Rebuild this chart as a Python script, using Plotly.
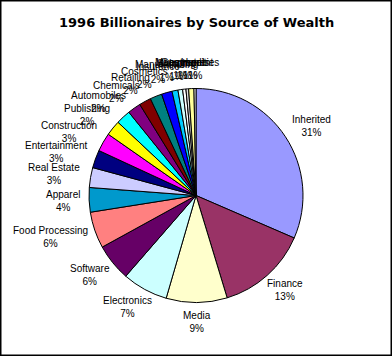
import math
import plotly.graph_objects as go

title = "1996 Billionaires by Source of Wealth"
categories = ["Inherited", "Finance", "Media", "Electronics", "Software",
              "Food Processing", "Apparel", "Real Estate", "Entertainment",
              "Construction", "Publishing", "Automobiles", "Chemicals",
              "Retailing", "Cosmetics", "Insurance", "Manufacturing",
              "Shipping", "Investment", "Management", "Commodities", "Hotels"]
values = [31.5, 13.8, 9.2, 6.9, 5.6, 5.5, 3.7, 3.0, 2.7, 2.8, 2.3, 2.2, 2.0,
          1.8, 1.8, 1.6, 0.9, 0.7, 0.5, 0.4, 0.8, 0.3]
pct_labels = ["31%", "13%", "9%", "7%", "6%", "6%", "4%", "3%", "3%", "3%",
              "2%", "2%", "2%", "2%", "2%", "2%", "1%", "1%", "1%", "1%",
              "1%", "1%"]
colors = ["#9999FF", "#993366", "#FFFFCC", "#CCFFFF", "#660066", "#FF8080",
          "#0099CC", "#CCCCFF", "#000080", "#FF00FF", "#FFFF00", "#00FFFF",
          "#800080", "#800000", "#008080", "#0000FF", "#00CCFF", "#CCFFFF",
          "#FFFFFF", "#E0E0E0", "#FFFF99", "#FFFFFF"]

W, H = 392, 356
cx, cy, r = 196, 195.5, 107
FONT = "Liberation Sans, Arial, sans-serif"

fig = go.Figure(go.Pie(
    labels=categories,
    values=values,
    textinfo="none",
    sort=False,
    direction="clockwise",
    rotation=0,
    marker=dict(colors=colors, line=dict(color="black", width=1)),
    domain=dict(x=[(cx - r) / W, (cx + r) / W],
                y=[(H - cy - r) / H, (H - cy + r) / H]),
    showlegend=False,
    hoverinfo="label+percent",
))

# label positions derived from each slice's mid-angle
annotations = []
total = sum(values)
cum = 0.0
gap = 8
for lab, val, pct in zip(categories, values, pct_labels):
    mid = (cum + val / 2) / total * 2 * math.pi
    cum += val
    s, c = math.sin(mid), math.cos(mid)
    ax = cx + (r + gap) * s
    ay = cy - (r + gap) * c
    w = 5.2 * max(len(lab), len(pct))
    h = 24
    tx = ax + w / 2 * s
    ty = ay - h / 2 * c
    annotations.append(dict(
        text=lab + "<br>" + pct, x=tx / W, y=1 - ty / H,
        xref="paper", yref="paper", showarrow=False,
        xanchor="center", yanchor="middle", align="center",
        font=dict(family=FONT, size=10, color="black")))

annotations.append(dict(text="<b>" + title + "</b>", x=0.5, y=1 - 22 / H,
                        xref="paper", yref="paper", showarrow=False,
                        xanchor="center", yanchor="middle",
                        font=dict(family="DejaVu Sans", size=13, color="black")))

fig.update_layout(
    width=W, height=H,
    margin=dict(l=0, r=0, t=0, b=0, autoexpand=False),
    paper_bgcolor="white",
    plot_bgcolor="white",
    annotations=annotations,
    shapes=[dict(type="rect", xref="paper", yref="paper", x0=0, y0=0, x1=1, y1=1,
                 line=dict(color="black", width=3))],
)

fig.write_html(
    "out.html",
    config={"displayModeBar": False},
    post_script="document.body.style.margin='0';document.body.style.overflow='hidden';",
)
